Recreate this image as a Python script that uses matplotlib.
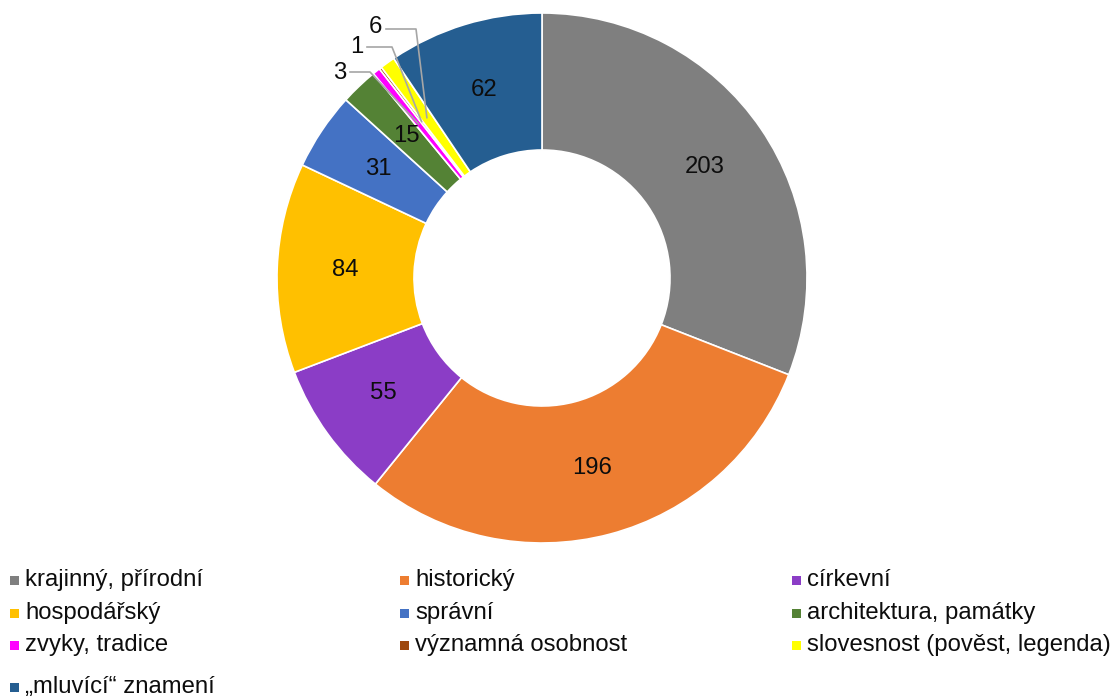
import matplotlib
matplotlib.use("Agg")
import matplotlib.pyplot as plt
from matplotlib.patches import Rectangle
import numpy as np

plt.rcParams['font.family'] = ['Liberation Sans', 'DejaVu Sans']

categories = ["krajinný, přírodní", "historický", "církevní", "hospodářský", "správní",
              "architektura, památky", "zvyky, tradice", "významná osobnost",
              "slovesnost (pověst, legenda)", "„mluvící“ znamení"]
values = [203, 196, 55, 84, 31, 15, 3, 1, 6, 62]
colors = ["#7F7F7F", "#ED7D31", "#8B3DC6", "#FFC000", "#4472C4", "#548235",
          "#FF00FF", "#9E480E", "#FFFF00", "#255E91"]

W, H = 1117, 700
FS = 17.2
fig = plt.figure(figsize=(W / 100, H / 100), dpi=100)
ax = fig.add_axes([0, 0, 1, 1])
cx, cy, R = 542, 278, 265

inner = 128 / R
width = 1 - inner
wedges, _ = ax.pie(values, colors=colors, startangle=90, counterclock=False,
                   radius=1, center=(0, 0), frame=True,
                   wedgeprops=dict(width=width, edgecolor='white', linewidth=1.2))
ax.set_xlim(-cx / R, (W - cx) / R)
ax.set_ylim(-(H - cy) / R, cy / R)
ax.axis('off')

total = sum(values)
mid_r = (1 + inner) / 2
cum = np.cumsum([0] + values[:-1])
# small slices use leader lines: (label px pos, elbow start px, elbow end px, radius)
leaders = {6: ((340, 73), (350, 72), (370, 72), 0.745),
           7: ((357, 47), (367, 47), (392, 47), 0.745),
           8: ((375, 27), (386, 29), (416, 29), 0.745)}

def px2d(p):
    return ((p[0] - cx) / R, (cy - p[1]) / R)

for i, v in enumerate(values):
    mid = cum[i] + v / 2
    ang = np.deg2rad(90 - mid / total * 360)
    if i in leaders:
        lab, e1, e2, rr = leaders[i]
        lx, ly = px2d(lab)
        x1, y1 = px2d(e1)
        x2, y2 = px2d(e2)
        ex, ey = rr * np.cos(ang), rr * np.sin(ang)
        ax.plot([x1, x2, ex], [y1, y2, ey], color='#A6A6A6', lw=1.2, zorder=5)
        ax.text(lx, ly, str(v), ha='center', va='center', fontsize=FS, color='#0d0d0d')
    else:
        ax.text(mid_r * np.cos(ang), mid_r * np.sin(ang), str(v), ha='center',
                va='center', fontsize=FS, color='#0d0d0d')

# legend (row-wise, 3 columns)
col_x = [10, 400, 792]
row_y = [580, 613, 645, 687]
for i, (name, c) in enumerate(zip(categories, colors)):
    r, k = divmod(i, 3)
    x, y = col_x[k], row_y[r]
    fig.patches.append(Rectangle((x / W, 1 - (y + 5) / H), 9 / W, 9 / H,
                                 transform=fig.transFigure, facecolor=c, edgecolor='none'))
    fig.text((x + 15) / W, 1 - y / H, name, ha='left', va='center', fontsize=FS,
             color='#0d0d0d')

fig.savefig("out.png", dpi=100)
